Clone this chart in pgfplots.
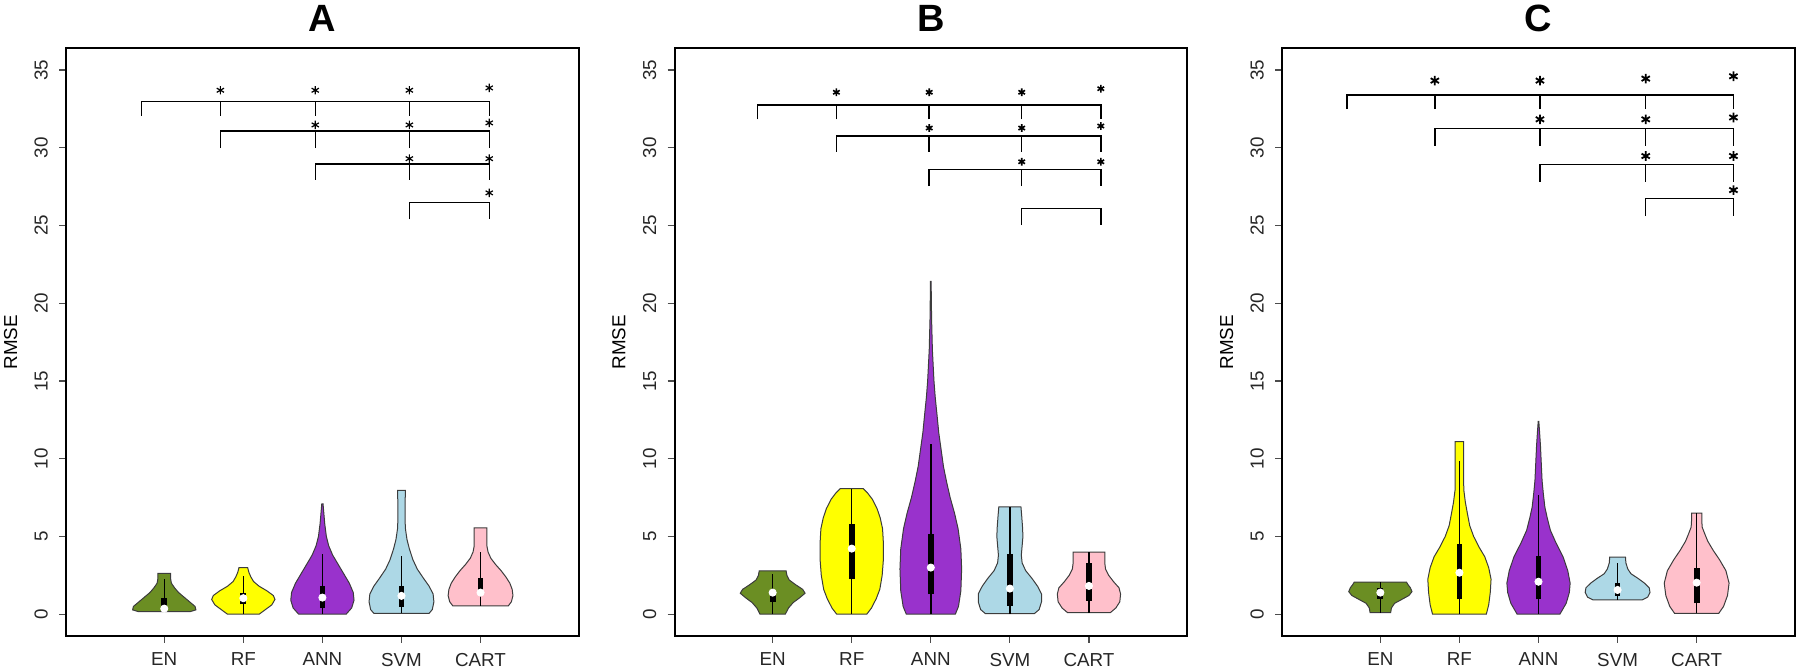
\documentclass[border=0pt]{standalone}
\usepackage{fontspec}
\setmainfont{Liberation Sans}
\usepackage{pgfplots}
\pgfplotsset{compat=1.18}
\usepackage{pgfplotstable}
\usepgfplotslibrary{fillbetween}

\definecolor{cEN}{RGB}{107,142,35}
\definecolor{cRF}{RGB}{255,255,0}
\definecolor{cANN}{RGB}{153,50,204}
\definecolor{cSVM}{RGB}{173,216,230}
\definecolor{cCART}{RGB}{255,192,203}
\definecolor{vline}{RGB}{60,60,60}

% ---------- violin profiles: y, half width ----------
\pgfplotstableread{
y w
0.17 0.33
0.28 0.40
0.50 0.39
0.80 0.32
1.10 0.25
1.40 0.18
1.70 0.13
2.00 0.09
2.30 0.08
2.63 0.08
}\tAen
\pgfplotstableread{
y w
0.00 0.20
0.30 0.28
0.60 0.36
0.95 0.40
1.20 0.38
1.50 0.30
1.80 0.20
2.10 0.13
2.40 0.095
2.70 0.07
3.00 0.055
}\tArf
\pgfplotstableread{
y w
0.00 0.30
0.40 0.37
0.90 0.40
1.40 0.39
2.00 0.34
2.60 0.27
3.20 0.20
3.80 0.13
4.40 0.08
5.00 0.05
5.80 0.03
6.50 0.018
7.10 0.008
}\tAann
\pgfplotstableread{
y w
0.06 0.35
0.30 0.39
0.80 0.41
1.30 0.40
1.80 0.35
2.30 0.28
2.90 0.20
3.50 0.145
4.20 0.10
4.80 0.07
5.50 0.05
6.10 0.045
7.00 0.045
7.97 0.05
}\tAsvm
\pgfplotstableread{
y w
0.53 0.35
0.80 0.39
1.20 0.41
1.60 0.40
2.00 0.37
2.40 0.32
2.80 0.26
3.20 0.19
3.60 0.13
4.00 0.095
4.40 0.08
5.00 0.08
5.56 0.08
}\tAcart
\pgfplotstableread{
y w
0.00 0.16
0.40 0.20
0.75 0.26
1.05 0.34
1.35 0.41
1.60 0.38
1.90 0.29
2.20 0.21
2.50 0.18
2.79 0.17
}\tBen
\pgfplotstableread{
y w
0.00 0.19
0.40 0.25
1.00 0.31
1.60 0.355
2.50 0.385
3.50 0.40
4.60 0.40
5.50 0.39
6.20 0.36
6.80 0.32
7.40 0.26
7.80 0.20
8.08 0.145
}\tBrf
\pgfplotstableread{
y w
0.00 0.31
0.50 0.35
1.50 0.38
2.90 0.39
4.20 0.38
5.50 0.345
6.50 0.30
7.50 0.245
8.50 0.20
9.50 0.16
10.60 0.13
11.70 0.10
12.75 0.08
14.00 0.055
15.00 0.04
17.00 0.02
19.00 0.01
21.40 0.004
}\tBann
\pgfplotstableread{
y w
0.04 0.31
0.30 0.37
0.80 0.40
1.30 0.40
1.80 0.35
2.30 0.28
2.80 0.20
3.30 0.155
3.80 0.145
4.40 0.155
5.00 0.165
5.60 0.16
6.30 0.15
6.90 0.14
}\tBsvm
\pgfplotstableread{
y w
0.10 0.27
0.40 0.34
0.80 0.39
1.30 0.40
1.70 0.38
2.10 0.31
2.50 0.25
2.90 0.21
3.30 0.20
3.70 0.20
4.00 0.20
}\tBcart
\pgfplotstableread{
y w
0.10 0.13
0.40 0.14
0.70 0.18
0.95 0.27
1.20 0.36
1.45 0.40
1.70 0.38
1.90 0.35
2.07 0.33
}\tCen
\pgfplotstableread{
y w
0.00 0.34
0.60 0.37
1.40 0.39
2.25 0.40
3.00 0.37
3.70 0.32
4.30 0.25
5.00 0.18
5.70 0.13
6.50 0.10
7.20 0.075
8.00 0.055
9.00 0.053
10.00 0.053
11.10 0.053
}\tCrf
\pgfplotstableread{
y w
0.00 0.27
0.70 0.35
1.40 0.39
2.00 0.40
2.80 0.37
3.70 0.31
4.60 0.22
5.40 0.15
6.20 0.11
6.90 0.08
7.80 0.06
8.60 0.045
9.70 0.035
10.80 0.025
11.60 0.015
12.40 0.004
}\tCann
\pgfplotstableread{
y w
0.92 0.31
1.10 0.38
1.40 0.41
1.70 0.40
2.00 0.34
2.30 0.26
2.60 0.17
2.90 0.13
3.30 0.105
3.67 0.10
}\tCsvm
\pgfplotstableread{
y w
0.06 0.28
0.50 0.34
1.20 0.39
2.00 0.41
2.80 0.37
3.50 0.29
4.10 0.21
4.70 0.14
5.20 0.10
5.60 0.07
6.00 0.065
6.50 0.065
}\tCcart

% ---------- helpers ----------
\newcommand{\violin}[4]{%
  \addplot[draw=none, name path=R#4] table[x expr=#2+\thisrow{w}, y=y] {#1};
  \addplot[draw=none, name path=L#4] table[x expr=#2-\thisrow{w}, y=y] {#1};
  \addplot[fill=#3, draw=vline, line width=0.5pt] fill between[of=R#4 and L#4, reverse=true];
}
\newcommand{\vstats}[6]{%
  \addplot[black, line width=0.7pt] coordinates {(#1,#2) (#1,#3)};
  \addplot[black, line width=2.9pt] coordinates {(#1,#4) (#1,#5)};
  \addplot[only marks, mark=*, mark size=1.8pt, mark options={draw=white, fill=white}] coordinates {(#1,#6)};
}
\newcommand{\brk}[4]{%
  \addplot[black, line width=0.75pt] coordinates {(#1,#4) (#1,#3) (#2,#3) (#2,#4)};
}
\newcommand{\tck}[3]{%
  \addplot[black, line width=0.75pt] coordinates {(#1,#3) (#1,#2)};
}

\pgfplotsset{panel/.style={
  scale only axis, width=256.2pt, height=293.85pt,
  xmin=-0.24, xmax=6.24, ymin=-1.4, ymax=36.4,
  xtick={1,2,3,4,5}, xticklabels={EN,RF,ANN,SVM,CART},
  ytick={0,5,...,35},
  tick align=outside, xtick pos=left, ytick pos=left,
  major tick length=3.5pt,
  tick style={line width=0.6pt, color=black!70},
  axis line style={line width=1pt},
  /pgf/number format/assume math mode=true,
  tick label style={font=\fontsize{9.4}{11}\selectfont, text=black!85},
  yticklabel style={xshift=-5.5pt, rotate=90, anchor=south, inner sep=0pt},
  xticklabel style={yshift=-1.5pt},
  ylabel={RMSE},
  ylabel style={at={(axis description cs:-0.1085,0.5)}, anchor=center, inner sep=0pt, font=\fontsize{9.4}{11}\selectfont},
  title style={at={(axis description cs:0.5,1)}, anchor=center, inner sep=0pt, yshift=9pt, font=\bfseries\fontsize{19}{22}\selectfont},
  clip=false,
}}

\begin{document}
\begin{tikzpicture}

% ================= A =================
\begin{axis}[panel, at={(33.1pt,18pt)}, anchor=south west, title={A}]
\violin{\tAen}{1}{cEN}{Aen}
\violin{\tArf}{2}{cRF}{Arf}
\violin{\tAann}{3}{cANN}{Aann}
\violin{\tAsvm}{4}{cSVM}{Asvm}
\violin{\tAcart}{5}{cCART}{Acart}
\vstats{1}{0.17}{2.24}{0.45}{1.05}{0.36}
\vstats{2}{0}{2.46}{0.64}{1.39}{1.03}
\vstats{3}{0}{3.85}{0.43}{1.82}{1.07}
\vstats{4}{0.06}{3.74}{0.49}{1.82}{1.18}
\vstats{5}{0.53}{4.02}{1.56}{2.35}{1.39}
\brk{0.71}{5.11}{32.97}{32.05}
\tck{1.71}{32.97}{32.05}\tck{2.91}{32.97}{32.05}\tck{4.10}{32.97}{32.05}
\brk{1.71}{5.11}{31.08}{29.97}
\tck{2.91}{31.08}{29.97}\tck{4.10}{31.08}{29.97}
\brk{2.91}{5.11}{28.96}{27.93}
\tck{4.10}{28.96}{27.93}
\brk{4.10}{5.11}{26.47}{25.40}
\addplot[only marks, mark=asterisk, mark size=2.1pt, line width=0.6pt] coordinates {
(1.71,33.7) (2.91,33.7) (4.10,33.7) (5.11,33.85)
(2.91,31.47) (4.10,31.47) (5.11,31.6)
(4.10,29.3) (5.11,29.3)
(5.11,27.1)};
\end{axis}

% ================= B =================
\begin{axis}[panel, at={(337.3pt,18pt)}, anchor=south west, title={B}]
\violin{\tBen}{1}{cEN}{Ben}
\violin{\tBrf}{2}{cRF}{Brf}
\violin{\tBann}{3}{cANN}{Bann}
\violin{\tBsvm}{4}{cSVM}{Bsvm}
\violin{\tBcart}{5}{cCART}{Bcart}
\vstats{1}{0}{2.57}{0.80}{1.45}{1.39}
\vstats{2}{0}{8.08}{2.25}{5.79}{4.22}
\vstats{3}{0}{10.93}{1.29}{5.14}{3.00}
\vstats{4}{0.04}{6.90}{0.54}{3.86}{1.65}
\vstats{5}{0.10}{4.00}{0.86}{3.32}{1.82}
\brk{0.806}{5.15}{32.75}{31.83}
\tck{1.806}{32.75}{31.83}\tck{2.98}{32.75}{31.83}\tck{4.15}{32.75}{31.83}
\brk{1.806}{5.15}{30.76}{29.75}
\tck{2.98}{30.76}{29.75}\tck{4.15}{30.76}{29.75}
\brk{2.98}{5.15}{28.61}{27.54}
\tck{4.15}{28.61}{27.54}
\brk{4.15}{5.15}{26.10}{25.03}
\addplot[only marks, mark=asterisk, mark size=1.9pt, line width=0.8pt] coordinates {
(1.806,33.57) (2.98,33.57) (4.15,33.57) (5.15,33.8)
(2.98,31.27) (4.15,31.27) (5.15,31.4)
(4.15,29.1) (5.15,29.1)};
\end{axis}

% ================= C =================
\begin{axis}[panel, at={(641.15pt,18pt)}, anchor=south west, title={C}]
\violin{\tCen}{1}{cEN}{Cen}
\violin{\tCrf}{2}{cRF}{Crf}
\violin{\tCann}{3}{cANN}{Cann}
\violin{\tCsvm}{4}{cSVM}{Csvm}
\violin{\tCcart}{5}{cCART}{Ccart}
\vstats{1}{0.10}{2.07}{1.00}{1.70}{1.39}
\vstats{2}{0}{9.83}{0.96}{4.49}{2.67}
\vstats{3}{0}{7.70}{0.96}{3.74}{2.09}
\vstats{4}{0.92}{3.30}{1.18}{2.03}{1.56}
\vstats{5}{0.06}{6.50}{0.70}{3.00}{2.03}
\brk{0.578}{5.465}{33.40}{32.48}
\tck{1.689}{33.40}{32.48}\tck{3.018}{33.40}{32.48}\tck{4.356}{33.40}{32.48}
\brk{1.689}{5.465}{31.25}{30.14}
\tck{3.018}{31.25}{30.14}\tck{4.356}{31.25}{30.14}
\brk{3.018}{5.465}{28.94}{27.82}
\tck{4.356}{28.94}{27.82}
\brk{4.356}{5.465}{26.75}{25.61}
\addplot[only marks, mark=asterisk, mark size=2.4pt, line width=0.9pt] coordinates {
(1.689,34.32) (3.018,34.32) (4.356,34.45) (5.465,34.6)
(3.018,31.83) (4.356,31.83) (5.465,31.95)
(4.356,29.47) (5.465,29.47)
(5.465,27.28)};
\end{axis}

\pgfresetboundingbox
\path[use as bounding box] (0,0) rectangle (900pt,336pt);
\end{tikzpicture}
\end{document}
